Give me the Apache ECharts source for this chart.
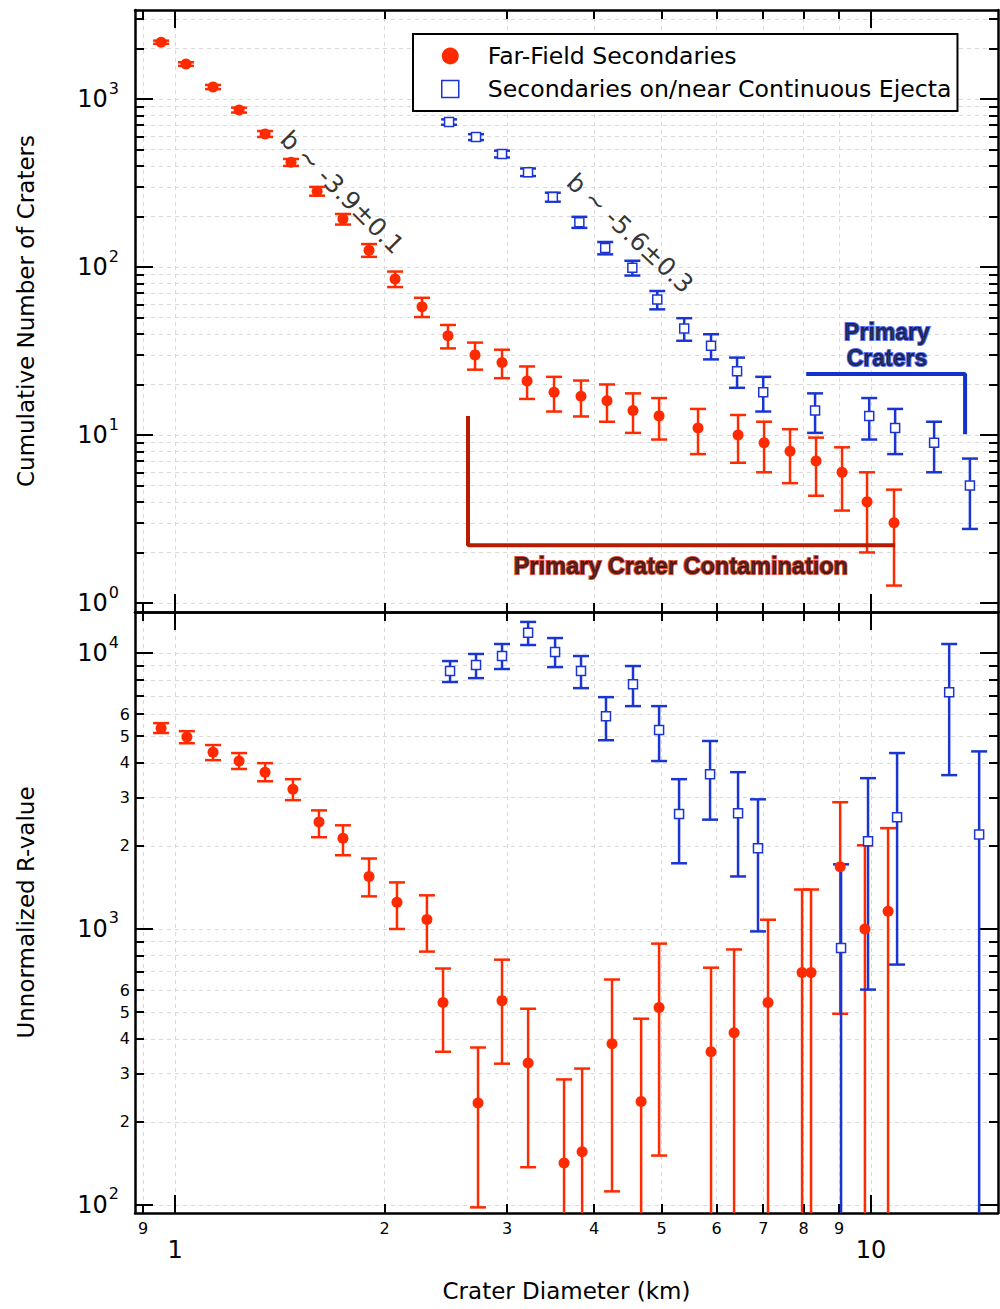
<!DOCTYPE html>
<html>
<head>
<meta charset="utf-8">
<script src="https://cdn.jsdelivr.net/npm/echarts@6/dist/echarts.min.js"></script>
<style>
html, body { margin: 0; padding: 0; background: #fff; }
#chart { width: 1000px; height: 1309px; }
</style>
</head>
<body>
<div id="chart"></div>
<script>
// far-field secondaries, cumulative counts (top panel)
const ffDiam = [0.955, 1.037, 1.134, 1.236, 1.347, 1.468, 1.600, 1.743, 1.900, 2.071, 2.264, 2.467, 2.698, 2.950, 3.205, 3.504, 3.831, 4.175, 4.550, 4.960, 5.642, 6.441, 7.020, 7.649, 8.337, 9.086, 9.869, 10.79];
const ffCum = [2180, 1616, 1180, 860, 620, 420, 283, 193, 126, 85, 58, 39, 30, 27, 21, 18, 17, 16, 14, 13, 11, 10, 9, 8, 7, 6, 4, 3];
const ffCumLo = [2133, 1576, 1146, 831, 595, 400, 266, 179, 115, 76, 50.4, 32.8, 24.5, 21.8, 16.4, 13.8, 12.9, 12, 10.3, 9.4, 7.7, 6.84, 6, 5.17, 4.35, 3.55, 2, 1.27];
const ffCumHi = [2227, 1656, 1214, 889, 645, 440, 300, 207, 137, 94, 65.6, 45.2, 35.5, 32.2, 25.6, 22.2, 21.1, 20, 17.7, 16.6, 14.3, 13.16, 12, 10.83, 9.65, 8.45, 6, 4.73];

// secondaries on/near continuous ejecta, cumulative counts
const ejDiam = [2.476, 2.707, 2.950, 3.215, 3.490, 3.810, 4.150, 4.540, 4.930, 5.390, 5.890, 6.420, 7.000, 8.310, 9.940, 10.83, 12.32, 13.87];
const ejCum = [730, 594, 471, 367, 261, 185, 130, 99, 64, 43, 34, 24, 18, 14, 13, 11, 9, 5];
const ejCumLo = [703, 570, 449, 348, 245, 171, 119, 89, 56, 36.4, 28.2, 19.1, 13.8, 10.3, 9.4, 7.7, 6, 2.76];
const ejCumHi = [757, 618, 493, 386, 277, 199, 141, 109, 72, 49.6, 39.8, 28.9, 22.2, 17.7, 16.6, 14.3, 12, 7.24];

// R-values (bottom panel); a lower bound of 0 runs off the axis
const ffRDiam = [0.955, 1.040, 1.134, 1.236, 1.347, 1.477, 1.610, 1.743, 1.900, 2.084, 2.301, 2.427, 2.725, 2.950, 3.216, 3.622, 3.845, 4.245, 4.674, 4.960, 5.890, 6.357, 7.112, 7.960, 8.200, 9.030, 9.800, 10.58];
const ffR = [5340, 4960, 4370, 4060, 3700, 3210, 2440, 2130, 1550, 1250, 1082, 541, 234, 550, 327, 142, 156, 384, 237, 519, 359, 421, 541, 695, 695, 1680, 1000, 1160];
const ffRLo = [5130, 4710, 4090, 3800, 3430, 2930, 2150, 1850, 1313, 1000, 828, 359, 98, 325, 137, 0, 0, 112, 0, 151, 0, 0, 0, 0, 0, 493, 0, 0];
const ffRHi = [5570, 5210, 4640, 4340, 3990, 3490, 2690, 2375, 1800, 1475, 1324, 719, 372, 774, 514, 285, 312, 656, 473, 885, 724, 843, 1080, 1390, 1390, 2880, 2010, 2320];

const ejRDiam = [2.484, 2.707, 2.950, 3.216, 3.516, 3.831, 4.161, 4.550, 4.960, 5.299, 5.871, 6.441, 6.880, 9.056, 9.901, 10.90, 12.95, 14.30];
const ejR = [8600, 9040, 9750, 11830, 10080, 8600, 5900, 7710, 5260, 2610, 3640, 2625, 1960, 853, 2080, 2540, 7210, 2200];
const ejRLo = [7850, 8110, 8750, 10690, 8890, 7460, 4830, 6420, 4060, 1730, 2490, 1550, 980, 0, 603, 743, 3610, 0];
const ejRHi = [9350, 9920, 10780, 12960, 11330, 9750, 6920, 8970, 6420, 3490, 4800, 3700, 2950, 1715, 3520, 4340, 10780, 4400];

// ticks
const xMajor = [1, 10];
const xMinor = [0.9, 2, 3, 4, 5, 6, 7, 8, 9];
const cumMajor = [1, 10, 100, 1000];
const cumMinor = [2, 3, 4, 5, 6, 7, 8, 9, 20, 30, 40, 50, 60, 70, 80, 90, 200, 300, 400, 500, 600, 700, 800, 900, 2000, 3000];
const rMajor = [100, 1000, 10000];
const rMinor = [200, 300, 400, 500, 600, 700, 800, 900, 2000, 3000, 4000, 5000, 6000, 7000, 8000, 9000];
const rMinorLabels = [200, 300, 400, 500, 600, 2000, 3000, 4000, 5000, 6000];

// annotations
const contamX = [2.636, 2.636, 10.83];
const contamY = [13.0, 2.21, 2.21];
const primX = [8.07, 13.65, 13.65];
const primY = [23.1, 23.1, 10.1];

const X_MIN = 0.876, X_MAX = 15.22;
const CUM_MIN = 0.884, CUM_MAX = 3390;
const R_MIN = 93.5, R_MAX = 14080;

const RED = '#ff2a00';
const BLUE = '#1a35d2';
const FONT = 'DejaVu Sans';

function powerLabel(v) {
  return '{b|10}{s|' + Math.round(Math.log10(v)) + '}';
}
const powerRich = {
  b: { fontFamily: FONT, fontSize: 24, color: '#000', lineHeight: 38 },
  s: { fontFamily: FONT, fontSize: 16, color: '#000', verticalAlign: 'top', lineHeight: 18, padding: [0, 0, 0, 1] }
};

const chart = echarts.init(document.getElementById('chart'), null, { renderer: 'svg' });

const gridLine = { show: true, lineStyle: { color: '#d9d9d9', type: [4, 4], width: 1 } };

function xAxisOf(grid, position, ticks, major, label) {
  return {
    type: 'log', gridIndex: grid, position: position, min: X_MIN, max: X_MAX,
    axisLine: { show: major, lineStyle: { color: '#000', width: 2.5 } },
    axisTick: { show: true, inside: true, length: major ? 18 : 9, customValues: ticks, lineStyle: { color: '#000', width: 2 } },
    axisLabel: label || { show: false },
    splitLine: position === 'bottom' ? gridLine : { show: false },
    axisPointer: { show: false }
  };
}

function yAxisOf(grid, position, ticks, major, min, max, label, name) {
  const ax = {
    type: 'log', gridIndex: grid, position: position, min: min, max: max,
    axisLine: { show: major, lineStyle: { color: '#000', width: 2.5 } },
    axisTick: { show: true, inside: true, length: major ? 18 : 9, customValues: ticks, lineStyle: { color: '#000', width: 2 } },
    axisLabel: label || { show: false },
    splitLine: position === 'left' ? gridLine : { show: false }
  };
  if (name) {
    ax.name = name;
    ax.nameLocation = 'middle';
    ax.nameGap = 98;
    ax.nameTextStyle = { fontFamily: FONT, fontSize: 23, color: '#000' };
  }
  return ax;
}

const bigLabel = (vals, margin) => ({
  show: true, customValues: vals, margin: margin, color: '#000',
  fontFamily: FONT, fontSize: 24, formatter: powerLabel, rich: powerRich
});
const smallLabel = (vals, margin, fmt) => ({
  show: true, customValues: vals, margin: margin, color: '#000',
  fontFamily: FONT, fontSize: 16, formatter: fmt
});

function errorBars(color) {
  return function (params, api) {
    const x = api.value(0);
    const lo = api.value(1);
    const top = api.coord([x, api.value(2)]);
    const open = lo <= 0;
    const bottom = open ? api.coord([x, R_MIN]) : api.coord([x, lo]);
    const hw = 8;
    const style = { stroke: color, lineWidth: 2.5, fill: null };
    const kids = [
      { type: 'line', shape: { x1: top[0], y1: top[1], x2: bottom[0], y2: bottom[1] }, style: style },
      { type: 'line', shape: { x1: top[0] - hw, y1: top[1], x2: top[0] + hw, y2: top[1] }, style: style }
    ];
    if (!open) {
      kids.push({ type: 'line', shape: { x1: bottom[0] - hw, y1: bottom[1], x2: bottom[0] + hw, y2: bottom[1] }, style: style });
    }
    return { type: 'group', children: kids };
  };
}

function barSeries(grid, xs, lo, hi, color) {
  return {
    type: 'custom', xAxisIndex: grid * 4, yAxisIndex: grid * 4, clip: true, silent: true,
    renderItem: errorBars(color),
    data: xs.map((x, i) => [x, lo[i], hi[i]])
  };
}

function noteSeries(x, y, text, label) {
  return {
    type: 'scatter', xAxisIndex: 0, yAxisIndex: 0, symbolSize: 0, silent: true,
    data: [[x, y]],
    label: Object.assign({ show: true, position: 'inside', formatter: text, fontFamily: FONT }, label)
  };
}

const option = {
  animation: false,
  backgroundColor: '#fff',
  textStyle: { fontFamily: FONT },
  grid: [
    { left: 135, right: 2, top: 10, height: 602, outerBoundsMode: 'none', containLabel: false },
    { left: 135, right: 2, top: 612, height: 601, outerBoundsMode: 'none', containLabel: false }
  ],
  legend: {
    left: 413, top: 34, orient: 'vertical',
    padding: [10, 6, 10, 28], itemGap: 9, itemWidth: 17, itemHeight: 17,
    borderColor: '#000', borderWidth: 2, backgroundColor: '#fff',
    textStyle: { fontFamily: FONT, fontSize: 23.6, color: '#000', padding: [0, 0, 0, 24] },
    data: [
      { name: 'Far-Field Secondaries', icon: 'circle', itemStyle: { color: RED } },
      { name: 'Secondaries on/near Continuous Ejecta', icon: 'rect', itemStyle: { color: '#fff', borderColor: BLUE, borderWidth: 1.5 } }
    ]
  },
  xAxis: [
    xAxisOf(0, 'bottom', xMajor, true),
    xAxisOf(0, 'bottom', xMinor, false),
    xAxisOf(0, 'top', xMajor, true),
    xAxisOf(0, 'top', xMinor, false),
    Object.assign(xAxisOf(1, 'bottom', xMajor, true, {
      show: true, customValues: xMajor, margin: 25, color: '#000', fontFamily: FONT, fontSize: 24
    }), {
      name: 'Crater Diameter (km)', nameLocation: 'middle', nameGap: 66,
      nameTextStyle: { fontFamily: FONT, fontSize: 23, color: '#000' }
    }),
    xAxisOf(1, 'bottom', xMinor, false, smallLabel(xMinor, 7, v => v < 1 ? '9' : String(v))),
    xAxisOf(1, 'top', xMajor, true),
    xAxisOf(1, 'top', xMinor, false)
  ],
  yAxis: [
    yAxisOf(0, 'left', cumMajor, true, CUM_MIN, CUM_MAX, bigLabel(cumMajor, 16), 'Cumulative Number of Craters'),
    yAxisOf(0, 'left', cumMinor, false, CUM_MIN, CUM_MAX),
    yAxisOf(0, 'right', cumMajor, true, CUM_MIN, CUM_MAX),
    yAxisOf(0, 'right', cumMinor, false, CUM_MIN, CUM_MAX),
    yAxisOf(1, 'left', rMajor, true, R_MIN, R_MAX, bigLabel(rMajor, 16), 'Unnormalized R-value'),
    yAxisOf(1, 'left', rMinor, false, R_MIN, R_MAX, smallLabel(rMinorLabels, 5, v => String(v).charAt(0))),
    yAxisOf(1, 'right', rMajor, true, R_MIN, R_MAX),
    yAxisOf(1, 'right', rMinor, false, R_MIN, R_MAX)
  ],
  series: [
    barSeries(0, ffDiam, ffCumLo, ffCumHi, RED),
    {
      name: 'Far-Field Secondaries', type: 'scatter', xAxisIndex: 0, yAxisIndex: 0,
      symbol: 'circle', symbolSize: 11, itemStyle: { color: RED, opacity: 1 },
      data: ffDiam.map((x, i) => [x, ffCum[i]])
    },
    barSeries(0, ejDiam, ejCumLo, ejCumHi, BLUE),
    {
      name: 'Secondaries on/near Continuous Ejecta', type: 'scatter', xAxisIndex: 0, yAxisIndex: 0,
      symbol: 'rect', symbolSize: 9, itemStyle: { color: '#fff', borderColor: BLUE, borderWidth: 1.5, opacity: 1 },
      data: ejDiam.map((x, i) => [x, ejCum[i]])
    },
    barSeries(1, ffRDiam, ffRLo, ffRHi, RED),
    {
      name: 'Far-Field Secondaries', type: 'scatter', xAxisIndex: 4, yAxisIndex: 4,
      symbol: 'circle', symbolSize: 11, itemStyle: { color: RED, opacity: 1 },
      data: ffRDiam.map((x, i) => [x, ffR[i]])
    },
    barSeries(1, ejRDiam, ejRLo, ejRHi, BLUE),
    {
      name: 'Secondaries on/near Continuous Ejecta', type: 'scatter', xAxisIndex: 4, yAxisIndex: 4,
      symbol: 'rect', symbolSize: 9, itemStyle: { color: '#fff', borderColor: BLUE, borderWidth: 1.5, opacity: 1 },
      data: ejRDiam.map((x, i) => [x, ejR[i]])
    },
    {
      type: 'line', xAxisIndex: 0, yAxisIndex: 0, showSymbol: false, silent: true,
      lineStyle: { color: '#b81c00', width: 4 },
      data: contamX.map((x, i) => [x, contamY[i]])
    },
    {
      type: 'line', xAxisIndex: 0, yAxisIndex: 0, showSymbol: false, silent: true,
      lineStyle: { color: '#1232cc', width: 4 },
      data: primX.map((x, i) => [x, primY[i]])
    },
    noteSeries(1.738, 279, 'b ~ -3.9\u00b10.1', { rotate: -45, fontSize: 25, color: '#000' }),
    noteSeries(4.505, 159, 'b ~ -5.6\u00b10.3', { rotate: -43, fontSize: 25, color: '#000' }),
    noteSeries(5.33, 1.66, 'Primary Crater Contamination', {
      fontSize: 23.5, fontWeight: 'bold', fontFamily: 'Liberation Sans', color: '#220000',
      textBorderColor: '#d41c00', textBorderWidth: 2
    }),
    noteSeries(10.54, 34.3, 'Primary\nCraters', {
      fontSize: 23, fontWeight: 'bold', fontFamily: 'Liberation Sans', color: '#00052a',
      textBorderColor: '#2a48f0', textBorderWidth: 2, lineHeight: 26, align: 'center'
    })
  ]
};

chart.setOption(option);
</script>
</body>
</html>
